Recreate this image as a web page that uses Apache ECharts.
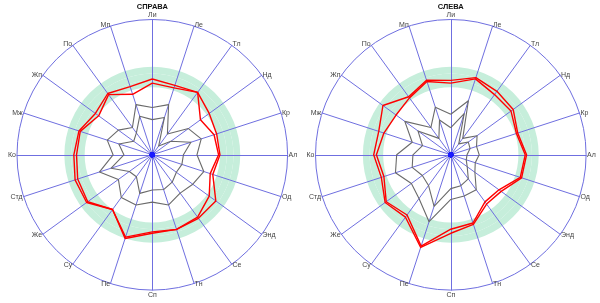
<!DOCTYPE html>
<html>
<head>
<meta charset="utf-8">
<script src="https://cdn.jsdelivr.net/npm/echarts@6/dist/echarts.min.js"></script>
<style>
  html, body { margin: 0; padding: 0; background: #fff; }
  #chart { width: 600px; height: 303px; }
</style>
</head>
<body>
<div id="chart"></div>
<script>
// Scale names, listed clockwise from the top
const categories = ['Ли', 'Ле', 'Тл', 'Нд', 'Кр', 'Ал', 'Од', 'Энд', 'Се', 'Тн',
                    'Сп', 'Пе', 'Су', 'Же', 'Стд', 'Ко', 'Мж', 'Жп', 'По', 'Мп'];

const scaleMax = 100;
// Norm corridor shown as the green ring
const normLow = 50;
const normHigh = 65;

// СПРАВА
const spravaRedA  = [56, 54, 57, 52, 50, 50, 47, 58, 58, 58, 58, 65, 50, 60, 60, 58, 57, 52, 56, 53];
const spravaRedB  = [53, 52, 57, 44, 48, 49, 45, 52, 57, 58, 57, 64, 50, 59, 58, 56, 56, 49, 55, 47];
const spravaGrayA = [35, 39, 19, 33, 38, 33, 40, 37, 35, 39, 35, 39, 39, 31, 41, 29, 35, 31, 25, 39];
const spravaGrayB = [26, 29, 8, 17, 30, 23, 23, 22, 25, 27, 26, 30, 20, 21, 32, 21, 26, 17, 20, 30];

// СЛЕВА
const slevaRedA  = [55, 60, 58, 57, 52, 56, 55, 46, 45, 54, 58, 72, 57, 60, 54, 57, 56, 62, 53, 58];
const slevaRedB  = [53, 59, 55, 55, 51, 55, 54, 44, 43, 53, 55, 71, 55, 59, 52, 55, 52, 50, 52, 57];
const slevaGrayA = [30, 42, 15, 24, 20, 21, 19, 22, 32, 32, 33, 52, 40, 36, 43, 40, 30, 42, 25, 37];
const slevaGrayB = [20, 32, 10, 16, 15, 12, 12, 15, 22, 24, 25, 40, 28, 26, 30, 28, 22, 30, 15, 27];

const AXIS = '#6f6fe0';
const HUB = '#1a1aff';
const RED = '#ff0000';
const GRAY = '#6a6a6a';
const BAND = '#c6eedb';
const FONT = 'Liberation Sans, Arial, sans-serif';

// Radar places indicators counter-clockwise, so reverse all but the first
const order = [0].concat(categories.map((_, i) => i).slice(1).reverse());
const arrange = arr => order.map(i => arr[i]);

const CY = 154.8;
const R = 135.3;
const centers = [152.3, 450.8];

const step = 5;
const bandColors = [];
for (let v = 0; v < scaleMax; v += step) {
  bandColors.push(v >= normLow && v + step <= normHigh ? BAND : 'rgba(0,0,0,0)');
}

function bandRadar(cx) {
  return {
    center: [cx, CY], radius: R, shape: 'circle', startAngle: 90,
    splitNumber: scaleMax / step,
    indicator: order.map(() => ({ name: '', min: 0, max: scaleMax })),
    axisName: { show: false },
    axisLine: { show: false },
    axisTick: { show: false },
    axisLabel: { show: false },
    splitLine: { show: false },
    splitArea: { show: true, areaStyle: { color: bandColors } },
    silent: true
  };
}

function axisRadar(cx) {
  return {
    center: [cx, CY], radius: R, shape: 'circle', startAngle: 90,
    splitNumber: 1,
    indicator: order.map(i => ({ name: categories[i], min: 0, max: scaleMax })),
    axisName: { color: '#444', fontSize: 7, fontFamily: FONT },
    nameGap: 1,
    axisLine: { lineStyle: { color: AXIS, width: 1 } },
    axisTick: { show: false },
    axisLabel: { show: false },
    splitLine: { lineStyle: { color: AXIS, width: 1 } },
    splitArea: { show: false },
    silent: true
  };
}

function profile(values, color, width) {
  return { value: arrange(values), lineStyle: { color: color, width: width } };
}

// hub marker where all spokes meet (every value at the origin)
const hub = {
  value: categories.map(() => 0),
  symbol: 'circle', symbolSize: 5,
  itemStyle: { color: HUB },
  lineStyle: { width: 0 }
};

function titleAt(text, cx) {
  return {
    text: text, left: cx, top: 3, padding: 0, textAlign: 'center',
    textStyle: { fontSize: 7.5, fontWeight: 'bold', color: '#111', fontFamily: FONT }
  };
}

const option = {
  animation: false,
  backgroundColor: '#fff',
  title: [titleAt('СПРАВА', centers[0]), titleAt('СЛЕВА', centers[1])],
  radar: [bandRadar(centers[0]), axisRadar(centers[0]), bandRadar(centers[1]), axisRadar(centers[1])],
  series: [
    {
      type: 'radar', radarIndex: 1, symbol: 'none', silent: true,
      data: [
        profile(spravaGrayA, GRAY, 1.1),
        profile(spravaGrayB, GRAY, 1.1),
        profile(spravaRedA, RED, 1.4),
        profile(spravaRedB, RED, 1.4),
        hub
      ]
    },
    {
      type: 'radar', radarIndex: 3, symbol: 'none', silent: true,
      data: [
        profile(slevaGrayA, GRAY, 1.1),
        profile(slevaGrayB, GRAY, 1.1),
        profile(slevaRedA, RED, 1.4),
        profile(slevaRedB, RED, 1.4),
        hub
      ]
    }
  ]
};

const chart = echarts.init(document.getElementById('chart'), null, { renderer: 'canvas' });
chart.setOption(option);
</script>
</body>
</html>
